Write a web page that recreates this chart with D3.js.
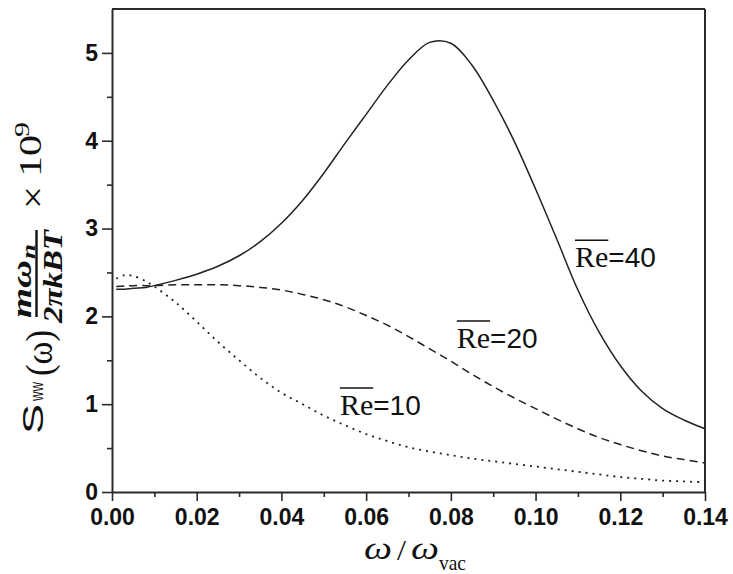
<!DOCTYPE html>
<html>
<head>
<meta charset="utf-8">
<script src="https://cdn.jsdelivr.net/npm/d3@7"></script>
<style>
  body { margin: 0; background: #fff; }
  svg { display: block; }
</style>
</head>
<body>
<svg id="chart" width="733" height="574"></svg>
<script>
// Normalised frequency grid shared by all three spectra
const omega = [0.001, 0.003, 0.005, 0.008, 0.010, 0.015, 0.020, 0.025, 0.030, 0.035,
               0.040, 0.045, 0.050, 0.055, 0.060, 0.065, 0.070, 0.075, 0.080, 0.085,
               0.090, 0.095, 0.100, 0.105, 0.110, 0.115, 0.120, 0.125, 0.130, 0.135, 0.140];

// Spectral density S_ww (scaled, ×1e9) for mean Reynolds numbers 10, 20, 40
const re10 = [2.43, 2.47, 2.46, 2.40, 2.34, 2.16, 1.94, 1.71, 1.50, 1.30,
              1.13, 1.00, 0.87, 0.76, 0.66, 0.58, 0.51, 0.46, 0.42, 0.38,
              0.35, 0.32, 0.29, 0.26, 0.23, 0.20, 0.17, 0.15, 0.13, 0.12, 0.11];
const re20 = [2.34, 2.345, 2.35, 2.35, 2.35, 2.36, 2.36, 2.36, 2.35, 2.33,
              2.30, 2.25, 2.19, 2.11, 2.01, 1.90, 1.77, 1.63, 1.49, 1.34,
              1.20, 1.07, 0.95, 0.83, 0.72, 0.62, 0.54, 0.47, 0.41, 0.37, 0.33];
const re40 = [2.31, 2.31, 2.32, 2.33, 2.35, 2.41, 2.48, 2.57, 2.69, 2.85,
              3.06, 3.32, 3.63, 3.97, 4.30, 4.63, 4.92, 5.12, 5.11, 4.86,
              4.46, 3.99, 3.45, 2.88, 2.30, 1.82, 1.44, 1.15, 0.95, 0.82, 0.72];

const reynolds = ["10", "20", "40"];
const xTicks = [0, 0.02, 0.04, 0.06, 0.08, 0.10, 0.12, 0.14];
const xMinorTicks = [0.01, 0.03, 0.05, 0.07, 0.09, 0.11, 0.13];
const yTicks = [0, 1, 2, 3, 4, 5];
const yMinorTicks = [0.5, 1.5, 2.5, 3.5, 4.5];

// Where each curve's "Re = n" tag sits, in data units (ω, S)
const tagAnchors = [[0.0538, 0.876], [0.0814, 1.64], [0.1093, 2.56]];

const svg = d3.select("#chart");
const x = d3.scaleLinear().domain([0, 0.14]).range([112, 705]);
const y = d3.scaleLinear().domain([0, 5.5]).range([492, 9]);

const axisColor = "#2a2a2a";
const tickFont = "'Liberation Sans', Arial, sans-serif";

// Frame: top and right edges
svg.append("line").attr("x1", x(0)).attr("x2", x(0.14)).attr("y1", y(5.5)).attr("y2", y(5.5))
  .attr("stroke", axisColor).attr("stroke-width", 2);
svg.append("line").attr("x1", x(0.14)).attr("x2", x(0.14)).attr("y1", y(5.5)).attr("y2", y(0))
  .attr("stroke", axisColor).attr("stroke-width", 2);

// Bottom axis: major + minor ticks
const gx = svg.append("g").attr("transform", `translate(0,${y(0)})`)
  .call(d3.axisBottom(x).tickValues(xTicks).tickFormat(d3.format(".2f"))
    .tickSize(9).tickSizeOuter(0).tickPadding(8));
svg.append("g").attr("transform", `translate(0,${y(0)})`)
  .call(d3.axisBottom(x).tickValues(xMinorTicks).tickFormat("").tickSize(5).tickSizeOuter(0))
  .call(g => g.select(".domain").remove());

// Left axis: major + minor ticks
const gy = svg.append("g").attr("transform", `translate(${x(0)},0)`)
  .call(d3.axisLeft(y).tickValues(yTicks).tickFormat(d3.format("d"))
    .tickSize(10).tickSizeOuter(0).tickPadding(4));
svg.append("g").attr("transform", `translate(${x(0)},0)`)
  .call(d3.axisLeft(y).tickValues(yMinorTicks).tickFormat("").tickSize(5).tickSizeOuter(0))
  .call(g => g.select(".domain").remove());

svg.selectAll(".domain").attr("stroke", axisColor).attr("stroke-width", 2);
svg.selectAll(".tick line").attr("stroke", axisColor).attr("stroke-width", 1.6);
[gx, gy].forEach(g => g.selectAll("text")
  .attr("font-family", tickFont).attr("font-weight", "bold")
  .attr("font-size", 23).attr("fill", "#111"));

// Curves
const series = [
  { name: reynolds[0], values: re10, dash: "2,5", width: 1.8 },
  { name: reynolds[1], values: re20, dash: "8,5", width: 1.5 },
  { name: reynolds[2], values: re40, dash: null, width: 1.5 }
];
const line = d3.line().x(d => x(d[0])).y(d => y(d[1])).curve(d3.curveCatmullRom.alpha(0.5));
series.forEach(s => {
  svg.append("path")
    .datum(omega.map((w, i) => [w, s.values[i]]))
    .attr("d", line)
    .attr("fill", "none")
    .attr("stroke", "#222")
    .attr("stroke-width", s.width)
    .attr("stroke-dasharray", s.dash);
});

// Curve tags: overlined "Re" followed by "=n"
series.forEach((s, i) => {
  const [aw, av] = tagAnchors[i];
  const tx = x(aw), ty = y(av);
  const re = svg.append("text").attr("x", tx).attr("y", ty)
    .attr("font-family", "'Liberation Serif', 'Times New Roman', serif")
    .attr("font-size", 30).attr("fill", "#111").text("Re");
  const rw = re.node().getComputedTextLength();
  svg.append("line").attr("x1", tx).attr("x2", tx + rw)
    .attr("y1", ty - 27).attr("y2", ty - 27)
    .attr("stroke", "#111").attr("stroke-width", 1.6);
  svg.append("text").attr("x", tx + rw).attr("y", ty)
    .attr("font-family", "'Liberation Sans', Arial, sans-serif")
    .attr("font-size", 28).attr("fill", "#111").text("=" + s.name);
});

// X axis title: ω / ω_vac
const serif = "'Liberation Serif', 'Times New Roman', serif";
const sans = "'Liberation Sans', Arial, sans-serif";
function xPiece(txt, x0, width, base, size, italic) {
  return svg.append("text").attr("x", x0).attr("y", base)
    .attr("font-family", serif).attr("font-size", size)
    .attr("font-style", italic ? "italic" : "normal").attr("fill", "#111")
    .attr("textLength", width).attr("lengthAdjust", "spacingAndGlyphs")
    .text(txt);
}
xPiece("ω", 364, 28, 559, 32, true);
xPiece("/", 397, 9, 560, 30, false);
xPiece("ω", 411, 28, 559, 32, true);
xPiece("vac", 439, 27, 570, 21, false);

// Y axis title, rotated: S_ww (ω) · mω_n / 2πkBT × 10^9
const yl = svg.append("g").attr("transform", "rotate(-90)");
function piece(txt, fromY, toY, base, family, size, opts = {}) {
  const t = yl.append("text")
    .attr("x", -fromY).attr("y", base)
    .attr("font-family", family).attr("font-size", size)
    .attr("fill", "#111")
    .attr("textLength", fromY - toY).attr("lengthAdjust", "spacingAndGlyphs")
    .text(txt);
  if (opts.italic) t.attr("font-style", "italic");
  if (opts.bold) t.attr("font-weight", "bold");
  return t;
}
piece("S", 434, 404, 43, sans, 30);
piece("ww", 401, 382, 43, sans, 19);
piece("(ω)", 376, 330, 52, serif, 38);
// fraction
yl.append("line").attr("x1", -317).attr("x2", -230).attr("y1", 36.5).attr("y2", 36.5)
  .attr("stroke", "#111").attr("stroke-width", 2.4);
piece("mω", 318, 260, 31, serif, 28, { italic: true, bold: true });
piece("n", 259, 244, 35, serif, 19, { italic: true, bold: true });
piece("2πkBT", 323, 230, 62, serif, 28, { italic: true, bold: true });
piece("×", 209, 186, 45, serif, 36);
piece("10", 177, 135, 41, serif, 32);
piece("9", 137, 122, 29, serif, 22);
</script>
</body>
</html>
